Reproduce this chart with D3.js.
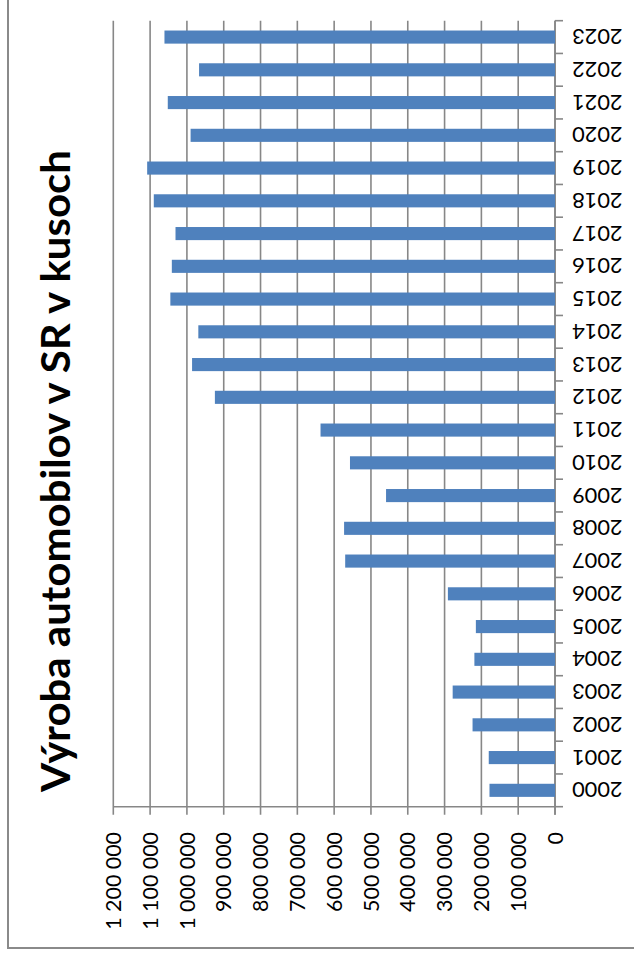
<!DOCTYPE html>
<html>
<head>
<meta charset="utf-8">
<script src="https://cdn.jsdelivr.net/npm/d3@7"></script>
<style>
  html, body { margin: 0; padding: 0; background: #fff; }
  svg { display: block; }
</style>
</head>
<body>
<svg id="chart" width="634" height="964"></svg>
<script>
const title = "Výroba automobilov v SR v kusoch";
const years = ["2000","2001","2002","2003","2004","2005","2006","2007","2008","2009","2010","2011",
               "2012","2013","2014","2015","2016","2017","2018","2019","2020","2021","2022","2023"];
const production = [178000, 180000, 224000, 278000, 219000, 215000, 291000, 570000, 573000, 459000,
                    557000, 637000, 924000, 986000, 969000, 1045000, 1041000, 1031000, 1090000,
                    1108000, 990000, 1052000, 967000, 1061000];
const valueTicks = [0, 100000, 200000, 300000, 400000, 500000, 600000, 700000, 800000, 900000,
                    1000000, 1100000, 1200000];

const svg = d3.select("#chart");
const FONT = "Lato, Calibri, 'Open Sans', sans-serif";
const gridColor = "#878787";
const barColor = "#4f81bd";

// outer chart border
svg.append("rect")
  .attr("x", 8).attr("y", -10).attr("width", 640).attr("height", 958)
  .attr("fill", "none").attr("stroke", "#8a8a8a").attr("stroke-width", 2);

const x = d3.scaleLinear().domain([0, 1200000]).range([555, 113.3]);
const y = d3.scaleBand().domain(years).range([806.7, 20.7]).paddingInner(0.6).paddingOuter(0.3);
const yTop = 20.7, yBot = 806.7;

const fmt = d3.formatLocale({decimal: ",", thousands: " ", grouping: [3], currency: ["", ""]}).format(",d");

// vertical gridlines
svg.append("g").selectAll("line").data(valueTicks).join("line")
  .attr("x1", d => x(d)).attr("x2", d => x(d))
  .attr("y1", yTop).attr("y2", yBot + 8)
  .attr("stroke", gridColor).attr("stroke-width", 1.6);

// bottom value axis line
svg.append("line")
  .attr("x1", x(1200000)).attr("x2", x(0)).attr("y1", yBot).attr("y2", yBot)
  .attr("stroke", gridColor).attr("stroke-width", 1.6);

// category axis line + ticks
svg.append("line")
  .attr("x1", x(0)).attr("x2", x(0)).attr("y1", yTop).attr("y2", yBot + 8)
  .attr("stroke", gridColor).attr("stroke-width", 1.6);
const step = y.step();
const boundaries = d3.range(years.length + 1).map(i => yBot - i * step);
svg.append("g").selectAll("line").data(boundaries).join("line")
  .attr("x1", x(0)).attr("x2", x(0) + 8)
  .attr("y1", d => d).attr("y2", d => d)
  .attr("stroke", gridColor).attr("stroke-width", 1.6);

// bars
svg.append("g").selectAll("rect").data(years).join("rect")
  .attr("x", (d, i) => x(production[i]))
  .attr("width", (d, i) => x(0) - x(production[i]))
  .attr("y", d => y(d))
  .attr("height", y.bandwidth())
  .attr("fill", barColor);

// value tick labels (rotated -90)
svg.append("g").selectAll("text").data(valueTicks).join("text")
  .attr("transform", d => `translate(${x(d)},832) rotate(-90)`)
  .attr("text-anchor", "end")
  .attr("dy", "0.36em")
  .attr("font-family", FONT).attr("font-size", 21.4).attr("fill", "#000")
  .text(d => fmt(d));

// year labels (rotated 180)
svg.append("g").selectAll("text").data(years).join("text")
  .attr("transform", d => `translate(572,${y(d) + y.bandwidth() / 2}) rotate(180)`)
  .attr("text-anchor", "end")
  .attr("dy", "0.36em")
  .attr("font-family", FONT).attr("font-size", 21.8).attr("fill", "#000")
  .text(d => d);

// title (rotated -90)
svg.append("text")
  .attr("transform", "translate(70,471) rotate(-90)")
  .attr("text-anchor", "middle")
  .attr("font-family", FONT).attr("font-weight", "bold").attr("font-size", 39.5)
  .attr("textLength", 642).attr("lengthAdjust", "spacingAndGlyphs")
  .attr("fill", "#000")
  .text(title);
</script>
</body>
</html>
